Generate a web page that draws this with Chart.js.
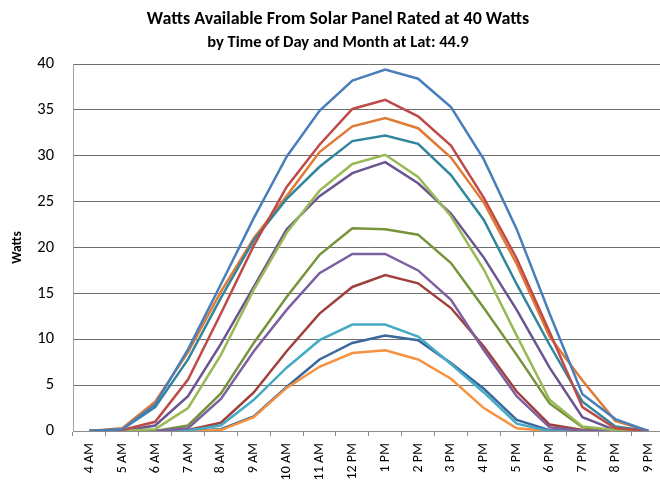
<!DOCTYPE html>
<html><head><meta charset="utf-8">
<script src="https://cdn.jsdelivr.net/npm/chart.js@4/dist/chart.umd.min.js"></script>
<style>
html,body{margin:0;padding:0;background:#fff;overflow:hidden;width:660px;height:481px;}
#wrap{position:relative;width:660px;height:481px;overflow:hidden;background:#fff;}
canvas{position:absolute;left:0;top:0;}
.t{position:absolute;left:0;width:676px;text-align:center;font-family:Carlito,Lato,sans-serif;font-weight:bold;color:#000;white-space:nowrap;}
</style></head><body>
<div id="wrap">
<canvas id="c" width="672" height="481"></canvas>
<div class="t" id="t1" style="top:7px;font-size:18px;line-height:22px;"></div>
<div class="t" id="t2" style="top:31px;font-size:16.5px;line-height:20px;"></div>
</div>
<script>
const titleText = 'Watts Available From Solar Panel Rated at 40 Watts';
const subtitleText = 'by Time of Day and Month at Lat: 44.9';
const yTitle = 'Watts';
const hours = ['4 AM','5 AM','6 AM','7 AM','8 AM','9 AM','10 AM','11 AM','12 PM','1 PM','2 PM','3 PM','4 PM','5 PM','6 PM','7 PM','8 PM','9 PM'];
const yTicks = {min:0, max:40, step:5};

const series1  = [0,0.2,2.9,8.9,16.0,23.2,29.9,34.9,38.2,39.4,38.4,35.3,29.6,22.0,12.8,4.0,1.3,0];
const series2  = [0,0.1,1.0,5.6,12.8,20.2,26.6,31.2,35.1,36.1,34.3,31.1,25.4,18.8,10.8,2.6,0.3,0];
const series3  = [0,0,0.2,2.5,8.3,15.4,21.6,26.2,29.1,30.1,27.7,23.4,17.6,10.4,3.4,0.5,0.1,0];
const series4  = [0,0,0,0.3,3.5,8.7,13.2,17.2,19.3,19.3,17.5,14.3,8.8,3.8,0.4,0,0,0];
const series5  = [0,0,0,0.05,0.6,3.4,6.9,9.9,11.6,11.6,10.3,7.3,4.2,0.8,0,0,0,0];
const series6  = [0,0,0,0,0.1,1.5,4.7,7.0,8.5,8.8,7.8,5.7,2.5,0.3,0,0,0,0];
const series7  = [0,0,0,0,0.2,1.6,4.8,7.8,9.6,10.4,9.9,7.4,4.6,1.2,0.1,0,0,0];
const series8  = [0,0,0,0.1,0.9,4.2,8.7,12.8,15.7,17.0,16.1,13.4,9.2,4.3,0.7,0.1,0,0];
const series9  = [0,0,0,0.6,4.1,9.6,14.6,19.2,22.1,22.0,21.4,18.3,13.4,8.3,3.0,0.4,0,0];
const series10 = [0,0,0.6,3.8,9.5,15.7,22.0,25.6,28.1,29.3,27.0,23.7,18.9,13.2,6.9,1.5,0.1,0];
const series11 = [0,0.2,2.6,7.8,14.5,20.8,25.3,28.8,31.6,32.2,31.3,27.9,23.0,16.0,9.4,3.2,0.5,0];
const series12 = [0,0.3,3.2,8.6,15.2,21.0,25.6,30.4,33.2,34.1,33.0,29.8,24.9,18.2,10.3,5.5,1.1,0];

const seriesNames = ['Series1','Series2','Series3','Series4','Series5','Series6','Series7','Series8','Series9','Series10','Series11','Series12'];
const seriesData = [series1,series2,series3,series4,series5,series6,series7,series8,series9,series10,series11,series12];
const seriesColors = ['#4A7EBB','#BE4B48','#98B954','#7D60A0','#46AAC5','#F69240','#3A679C','#A0403D','#77933C','#6A5591','#31859C','#E07B36'];

document.getElementById('t1').textContent = titleText;
document.getElementById('t2').textContent = subtitleText;

Chart.defaults.font.family = 'Carlito, Lato, sans-serif';
Chart.defaults.color = '#000';

new Chart(document.getElementById('c'), {
  type: 'line',
  data: {
    labels: hours,
    datasets: seriesData.map((d,i)=>({label:seriesNames[i], data:d, borderColor:seriesColors[i], backgroundColor:seriesColors[i], fill:false}))
  },
  options: {
    responsive:false, animation:false, devicePixelRatio:1,
    layout:{padding:{top:64,right:1,left:0,bottom:0}},
    plugins:{legend:{display:false}, tooltip:{enabled:false}, title:{display:false}},
    elements:{point:{radius:0}, line:{borderWidth:2.5, tension:0}},
    scales:{
      x:{
        offset:true,
        grid:{offset:true, drawOnChartArea:false, drawTicks:true, tickLength:5, color:'#8c8c8c'},
        border:{color:'#8c8c8c'},
        ticks:{maxRotation:90, minRotation:90, autoSkip:false, padding:7, color:'#000', font:{size:14}},
        afterFit(s){ s.height = 50; }
      },
      y:{
        min:yTicks.min, max:yTicks.max,
        ticks:{stepSize:yTicks.step, padding:19, color:'#000', font:{size:16.5}},
        grid:{drawTicks:false, color:'#6e6e6e'},
        border:{color:'#a0a0a0'},
        title:{display:true, text:yTitle, color:'#000', font:{weight:'bold', size:13.5}, padding:{top:10, bottom:0}},
        afterFit(s){ s.width = 73; }
      }
    }
  }
});
</script>
</body></html>
